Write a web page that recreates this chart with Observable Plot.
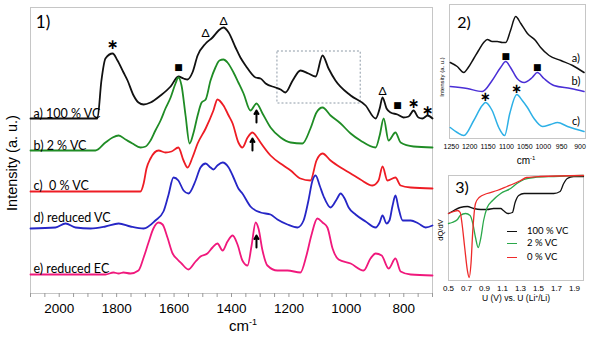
<!DOCTYPE html>
<html><head><meta charset="utf-8">
<script src="https://cdn.jsdelivr.net/npm/d3@7"></script>
<script src="https://cdn.jsdelivr.net/npm/@observablehq/plot@0.6"></script>
<style>
body{margin:0;background:#fff;}
#fig{position:relative;width:600px;height:337px;overflow:hidden;background:#fff;}
.pane{position:absolute;}
.lbl{position:absolute;white-space:nowrap;color:#000;line-height:1;}
.leg{position:absolute;height:0;border-top:1.6px solid;width:10px;}
</style></head><body><div id="fig"></div>
<script>
// ---------- Panel 1: IR spectra (wavenumber cm-1, intensity a.u., offset) ----------
const wavenumberTicks = [2000, 1800, 1600, 1400, 1200, 1000, 800];
const spectrumA = [[2100,175],[1874,175],[1867,175],[1853,213],[1839,235],[1814,240],[1797,233],[1776,221],[1762,213],[1741,198],[1724,191],[1706,189],[1682,191],[1647,198],[1612,207],[1585,217],[1567,215],[1553,214],[1536,221],[1518,238],[1490,250],[1466,256],[1445,263],[1428,266],[1410,261],[1386,246],[1369,236],[1351,228],[1316,216],[1299,215],[1281,210],[1247,206],[1229,204],[1212,201],[1187,213],[1160,223],[1132,220],[1107,217],[1083,238],[1062,225],[1038,213],[985,198],[933,188],[898,175],[884,185],[874,196],[860,185],[846,181],[822,179],[801,176],[783,177],[766,183],[749,176],[735,175],[717,178],[700,175]];
const spectrumB = [[2100,143],[1874,143],[1839,151],[1814,156],[1793,158],[1769,154],[1745,150],[1717,146],[1699,147],[1682,153],[1665,163],[1647,173],[1630,185],[1612,196],[1595,210],[1585,216],[1574,208],[1560,178],[1546,150],[1532,161],[1518,178],[1504,191],[1490,194],[1473,213],[1456,226],[1442,233],[1428,234],[1414,231],[1393,221],[1376,211],[1358,200],[1334,183],[1313,190],[1292,180],[1264,166],[1229,156],[1194,151],[1153,150],[1125,165],[1104,181],[1083,186],[1055,178],[1020,170],[985,160],[951,153],[898,146],[884,158],[870,175],[853,153],[829,161],[811,151],[766,147],[700,146]];
const spectrumC = [[2100,102],[1717,102],[1706,110],[1696,125],[1682,135],[1654,143],[1630,141],[1609,142],[1585,146],[1567,133],[1553,126],[1536,136],[1518,150],[1490,165],[1463,183],[1449,194],[1428,188],[1410,178],[1396,170],[1376,151],[1362,146],[1344,156],[1327,161],[1313,157],[1299,151],[1264,138],[1219,128],[1194,123],[1160,115],[1125,113],[1104,133],[1083,140],[1055,133],[1020,126],[985,120],[951,114],[909,108],[888,113],[874,127],[857,113],[829,116],[811,108],[776,106],[700,105]];
const spectrumD = [[2100,65],[2013,66],[1978,70],[1943,66],[1891,65],[1839,67],[1793,70],[1752,67],[1706,65],[1665,73],[1637,82],[1620,98],[1602,116],[1585,113],[1567,103],[1550,100],[1525,113],[1508,126],[1490,130],[1473,126],[1463,124],[1449,128],[1431,131],[1410,126],[1393,116],[1376,105],[1362,100],[1334,87],[1299,81],[1264,79],[1240,74],[1205,69],[1170,66],[1149,73],[1132,93],[1118,113],[1107,118],[1093,108],[1079,97],[1055,86],[1034,94],[1020,100],[1006,95],[992,86],[968,79],[933,72],[898,66],[884,71],[874,78],[860,70],[850,73],[839,88],[829,98],[818,85],[804,73],[776,73],[749,70],[724,66],[700,68]];
const spectrumE = [[2100,19],[1839,19],[1811,21],[1793,20],[1776,21],[1752,20],[1724,23],[1706,36],[1689,51],[1672,65],[1654,71],[1640,69],[1623,56],[1605,40],[1588,34],[1574,30],[1550,24],[1525,32],[1508,37],[1484,40],[1466,46],[1449,50],[1431,43],[1414,52],[1396,58],[1379,49],[1362,33],[1344,28],[1330,48],[1316,71],[1306,65],[1292,43],[1275,28],[1240,23],[1205,23],[1160,21],[1139,38],[1122,58],[1101,75],[1083,71],[1066,66],[1048,45],[1027,34],[985,30],[940,23],[916,35],[898,40],[877,38],[853,25],[829,35],[811,22],[776,19],[700,18]];
const spectrumNames = ["a) 100 % VC", "b) 2 % VC", "c)  0 % VC", "d) reduced VC", "e) reduced EC"];
const spectrumLabelY = [180, 148, 108, 76, 25];
const spectrumColors = ["#111111", "#1f8c25", "#ee1c24", "#2626c6", "#f0187c"];
const spectrumMarkers = [
  {x:1814, y:249, t:"∗"}, {x:1585, y:226, t:"■"}, {x:1490, y:260, t:"Δ"}, {x:1428, y:272, t:"Δ"},
  {x:874, y:202, t:"Δ"}, {x:822, y:188, t:"■"}, {x:766, y:190, t:"∗"}, {x:717, y:183, t:"∗"}
];
const spectrumArrows = [{x:1313, y1:171, y2:183}, {x:1327, y1:143, y2:155}, {x:1313, y1:46, y2:58}];
const zoomBox = [{x1:1240, x2:950, y1:190, y2:242}];

// ---------- Panel 2: zoomed spectra 1250-900 cm-1 ----------
const zoomTicks = [1250, 1200, 1150, 1100, 1050, 1000, 950, 900];
const zoomA = [[1253,76],[1234,72],[1216,66],[1204,71],[1189,80],[1176,88],[1162,96],[1152,99],[1139,97],[1125,97],[1111,96],[1102,96],[1089,108],[1075,122],[1061,115],[1043,105],[1021,98],[1007,91],[984,83],[952,78],[920,73],[889,66]];
const zoomB = [[1253,52],[1207,50],[1166,47],[1139,58],[1116,71],[1102,77],[1089,71],[1071,60],[1052,56],[1030,61],[1016,66],[998,60],[971,53],[925,50],[889,47]];
const zoomC = [[1253,11],[1234,6],[1216,3],[1189,18],[1166,33],[1157,36],[1139,28],[1121,11],[1105,3],[1091,25],[1072,44],[1057,38],[1043,31],[1025,20],[1002,12],[980,14],[961,16],[934,12],[889,7]];
const zoomNames = ["a)", "b)", "c)"];
const zoomLabelY = [80, 57, 17];
const zoomColors = ["#111111", "#4a2fd6", "#2db0e6"];
const zoomMarkers = [{x:1102, y:82, t:"■"}, {x:1016, y:71, t:"■"}, {x:1157, y:42, t:"∗"}, {x:1072, y:50, t:"∗"}];

// ---------- Panel 3: dQ/dV vs potential ----------
const voltTicks = [0.5, 0.7, 0.9, 1.1, 1.3, 1.5, 1.7, 1.9];
const dqdv100 = [[0.50,-38],[0.56,-35],[0.63,-32],[0.71,-31],[0.78,-33],[0.86,-34],[0.93,-34],[1.00,-33],[1.08,-33],[1.11,-35],[1.16,-38],[1.21,-37],[1.24,-27],[1.28,-20],[1.34,-18],[1.45,-18],[1.56,-18],[1.67,-18],[1.74,-16],[1.78,-8],[1.82,-3],[1.89,-1],[2.00,-1]];
const dqdv2 = [[0.50,-48],[0.54,-47],[0.60,-44],[0.63,-40],[0.69,-38],[0.74,-40],[0.77,-48],[0.80,-62],[0.83,-72],[0.86,-62],[0.89,-45],[0.93,-32],[0.99,-25],[1.08,-18],[1.19,-13],[1.26,-8],[1.34,-4],[1.45,-2],[1.67,-1],[2.00,0]];
const dqdv0 = [[0.50,-38],[0.56,-36],[0.60,-35],[0.63,-37],[0.65,-48],[0.68,-72],[0.71,-95],[0.73,-102],[0.75,-88],[0.77,-55],[0.80,-28],[0.84,-22],[0.93,-18],[1.04,-15],[1.15,-11],[1.23,-8],[1.30,-5],[1.37,-2],[1.52,-1],[2.00,0]];
const dqdvNames = ["100 % VC", "2 % VC", "0 % VC"];
const dqdvColors = ["#111111", "#2aa84a", "#ee2a2a"];

// ---------- build ----------
const fig = document.getElementById("fig");
const px = d => d[0], py = d => d[1];
const plain = d3.format("d");
function place(node, left, top) {
  const w = document.createElement("div");
  w.className = "pane"; w.style.left = left + "px"; w.style.top = top + "px";
  w.appendChild(node); fig.appendChild(w);
}
function label(html, cx, cy, size, opts = {}) {
  const d = document.createElement("div");
  d.className = "lbl"; d.innerHTML = html;
  d.style.left = cx + "px"; d.style.top = cy + "px";
  d.style.fontSize = size + "px";
  d.style.fontFamily = opts.font || "Lato, sans-serif";
  d.style.transform = "translate(-50%,-50%)" + (opts.rotate ? " rotate(" + opts.rotate + "deg)" : "");
  fig.appendChild(d);
}

const spectra = [spectrumA, spectrumB, spectrumC, spectrumD, spectrumE];
const p1 = Plot.plot({
  width: 440, height: 337,
  marginLeft: 30, marginRight: 8, marginTop: 7, marginBottom: 44,
  x: {domain: [2100, 700]},
  y: {domain: [0, 286], axis: null},
  style: {fontFamily: "'Liberation Sans', Arial, sans-serif", background: "transparent", overflow: "visible"},
  marks: [
    Plot.frame({stroke: "#c6c6c6"}),
    Plot.axisX({ticks: d3.range(700, 2101, 50), tickSize: 4, tickFormat: () => "", stroke: "#9a9a9a", label: null}),
    Plot.axisX({ticks: wavenumberTicks, tickSize: 0, tickPadding: 10, fontSize: 13.5, tickFormat: plain, label: null}),
    Plot.rect(zoomBox, {x1: "x1", x2: "x2", y1: "y1", y2: "y2", fill: "none", stroke: "#8d9aa6", strokeDasharray: "2,2"}),
    ...spectra.map((s, i) => Plot.line(s, {x: px, y: py, stroke: spectrumColors[i], strokeWidth: 1.8, curve: "monotone-x"})),
    Plot.text(spectrumNames, {x: 2100, y: (d, i) => spectrumLabelY[i], text: d => d, textAnchor: "start", dx: 3, fontSize: 12.5, fontFamily: "Lato, sans-serif"}),
    Plot.text(spectrumMarkers.filter(d => d.t === "∗"), {x: "x", y: "y", text: "t", fontSize: 14, fontWeight: "bold", fontFamily: "DejaVu Sans"}),
    Plot.text(spectrumMarkers.filter(d => d.t === "■"), {x: "x", y: "y", text: "t", fontSize: 9, fontFamily: "DejaVu Sans"}),
    Plot.text(spectrumMarkers.filter(d => d.t === "Δ"), {x: "x", y: "y", text: "t", fontSize: 12, fontFamily: "Lato, sans-serif"}),
    Plot.arrow(spectrumArrows, {x1: "x", x2: "x", y1: "y1", y2: "y2", stroke: "#000", strokeWidth: 2, headLength: 5})
  ]
});
place(p1, 0, 0);

const zooms = [zoomA, zoomB, zoomC];
const p2 = Plot.plot({
  width: 164, height: 170,
  marginLeft: 13, marginRight: 15, marginTop: 4, marginBottom: 32,
  x: {domain: [1255, 885]},
  y: {domain: [0, 134], axis: null},
  style: {fontFamily: "'Liberation Sans', Arial, sans-serif", background: "transparent", overflow: "visible"},
  marks: [
    Plot.frame({stroke: "#c6c6c6"}),
    Plot.axisX({ticks: zoomTicks, tickSize: 0, tickPadding: 6, fontSize: 7, tickFormat: plain, label: null}),
    ...zooms.map((s, i) => Plot.line(s, {x: px, y: py, stroke: zoomColors[i], strokeWidth: 1.5, curve: "monotone-x"})),
    Plot.text(zoomNames, {x: 911, y: (d, i) => zoomLabelY[i], text: d => d, fontSize: 11, fontFamily: "Lato, sans-serif"}),
    Plot.text(zoomMarkers.filter(d => d.t === "■"), {x: "x", y: "y", text: "t", fontSize: 9, fontFamily: "DejaVu Sans"}),
    Plot.text(zoomMarkers.filter(d => d.t === "∗"), {x: "x", y: "y", text: "t", fontSize: 13, fontWeight: "bold", fontFamily: "DejaVu Sans"})
  ]
});
place(p2, 436, 0);

const dqdv = [dqdv100, dqdv2, dqdv0];
const p3 = Plot.plot({
  width: 164, height: 167,
  marginLeft: 12, marginRight: 17, marginTop: 5, marginBottom: 57,
  x: {domain: [0.5, 2.0]},
  y: {domain: [-105, 0], axis: null},
  style: {fontFamily: "'Liberation Sans', Arial, sans-serif", background: "transparent", overflow: "visible"},
  marks: [
    Plot.frame({stroke: "#c6c6c6"}),
    Plot.axisX({ticks: voltTicks, tickSize: 0, tickPadding: 4.5, fontSize: 8, tickFormat: d3.format(".1f"), label: null}),
    ...dqdv.map((s, i) => Plot.line(s, {x: px, y: py, stroke: dqdvColors[i], strokeWidth: 1.3, curve: "monotone-x"}))
  ]
});
place(p3, 436, 170);

// ---------- free text ----------
label("1)", 43, 21, 17);
label("Intensity (a. u.)", 12, 163, 14.5, {rotate: -90, font: "'Liberation Sans', Arial, sans-serif"});
label("cm<sup style='font-size:9px;vertical-align:6px'>-1</sup>", 243, 325, 15, {font: "'Liberation Sans', Arial, sans-serif"});
label("2)", 464, 22, 16);
label("Intensity (a. u.)", 442, 77, 6, {rotate: -90, font: "'Liberation Sans', Arial, sans-serif"});
label("cm<sup style='font-size:6px;vertical-align:4px'>-1</sup>", 526, 160, 10, {font: "'Liberation Sans', Arial, sans-serif"});
label("3)", 462, 187, 16);
label("dQ/dV", 441, 230, 7.5, {rotate: -90, font: "'Liberation Sans', Arial, sans-serif"});
label("U (V) vs. U (Li<sup style='font-size:5px;vertical-align:3px'>+</sup>/Li)", 516, 298, 8.5, {font: "'Liberation Sans', Arial, sans-serif"});
const legY = [231, 243, 257];
dqdvNames.forEach((n, i) => {
  const ln = document.createElement("div");
  ln.className = "leg"; ln.style.left = "507px"; ln.style.top = legY[i] + "px"; ln.style.borderTopColor = dqdvColors[i];
  fig.appendChild(ln);
  const t = document.createElement("div");
  t.className = "lbl"; t.textContent = n; t.style.left = "527px"; t.style.top = (legY[i] - 5) + "px";
  t.style.fontSize = "9.5px"; t.style.fontFamily = "Lato, sans-serif";
  fig.appendChild(t);
});
</script></body></html>
